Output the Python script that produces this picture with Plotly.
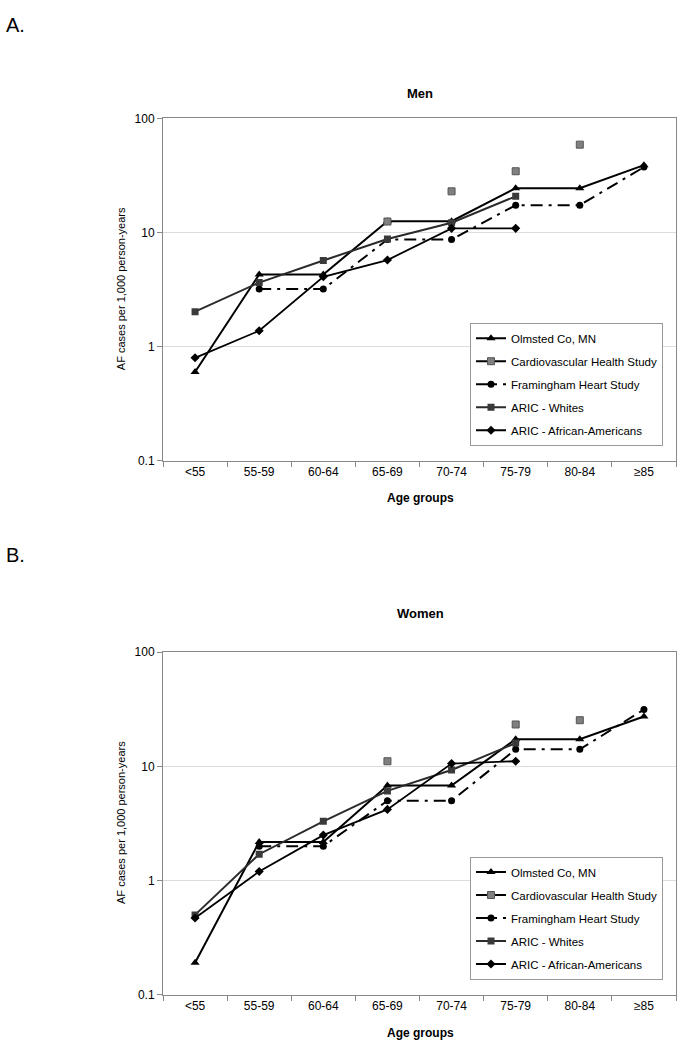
import plotly.graph_objects as go

categories = ["<55", "55-59", "60-64", "65-69", "70-74", "75-79", "80-84", "≥85"]
series_names = ["Olmsted Co, MN", "Cardiovascular Health Study", "Framingham Heart Study",
                "ARIC - Whites", "ARIC - African-Americans"]

# Men (AF cases per 1,000 person-years)
olmsted_men = [0.6, 4.3, 4.3, 12.6, 12.6, 24.5, 24.5, 39]
chs_men = [None, None, None, 12.5, 23, 34.5, 59, None]
fram_men = [None, 3.2, 3.2, 8.7, 8.7, 17.4, 17.4, 37.5]
whites_men = [2.03, 3.65, 5.7, 8.8, 12.2, 20.8, None, None]
aa_men = [0.8, 1.38, 4.1, 5.75, 10.9, 10.9, None, None]

# Women
olmsted_women = [0.19, 2.18, 2.18, 6.8, 6.8, 17.3, 17.3, 27.4]
chs_women = [None, None, None, 11.1, None, 23.3, 25.4, None]
fram_women = [None, 2.0, 2.0, 5.0, 5.0, 14.1, 14.1, 31.5]
whites_women = [0.5, 1.7, 3.3, 6.1, 9.3, 16.0, None, None]
aa_women = [0.47, 1.2, 2.5, 4.2, 10.6, 11.1, None, None]

W, H = 688, 1050
FONT = "Liberation Sans, Arial, sans-serif"

styles = [
    dict(line=dict(color="black", width=2), marker=dict(symbol="triangle-up", size=8, color="black")),
    dict(line=dict(color="black", width=2), marker=dict(symbol="square", size=7, color="#808080",
                                                         line=dict(color="#555555", width=1))),
    dict(line=dict(color="black", width=2, dash="12px,6px,3px,6px"), marker=dict(symbol="circle", size=7, color="black")),
    dict(line=dict(color="#2b2b2b", width=2), marker=dict(symbol="square", size=7, color="#3a3a3a")),
    dict(line=dict(color="black", width=1.8), marker=dict(symbol="diamond", size=7, color="black")),
]


def split_points(vals):
    # points drawn without connecting lines (gap after each point)
    xs, ys = [], []
    for c, v in zip(categories, vals):
        if v is not None:
            xs += [c, c]
            ys += [v, None]
    return xs, ys


fig = go.Figure()

panels = [
    ("x", "y", "legend", [olmsted_men, chs_men, fram_men, whites_men, aa_men]),
    ("x2", "y2", "legend2", [olmsted_women, chs_women, fram_women, whites_women, aa_women]),
]

for xa, ya, leg, data in panels:
    for i, (name, vals) in enumerate(zip(series_names, data)):
        if i == 1:
            xs, ys = split_points(vals)
        else:
            xs, ys = categories, vals
        fig.add_trace(go.Scatter(
            x=xs, y=ys, name=name, mode="lines+markers", connectgaps=False,
            xaxis=xa, yaxis=ya, legend=leg, legendgroup=leg + str(i),
            line=styles[i]["line"], marker=styles[i]["marker"], showlegend=True,
        ))

x_dom = [163 / W, 676 / W]
men_dom = [1 - 460 / H, 1 - 113 / H]
women_dom = [1 - 1001 / H, 1 - 654 / H]

xaxis_common = dict(
    type="category", categoryorder="array", categoryarray=categories,
    tickson="boundaries", ticks="outside", ticklen=5, tickcolor="#888888",
    showline=True, linecolor="#888888", linewidth=1, mirror=True,
    showgrid=False, tickfont=dict(family=FONT, size=12, color="black"),
    range=[-0.5, 7.5], fixedrange=True,
)
yaxis_common = dict(
    type="log", range=[-1, 2], tickvals=[0.1, 1, 10, 100], ticktext=["0.1", "1", "10", "100"],
    ticks="outside", ticklen=5, tickcolor="#888888",
    showline=True, linecolor="#888888", linewidth=1, mirror=True,
    showgrid=True, gridcolor="#dcdcdc", gridwidth=1, zeroline=False,
    tickfont=dict(family=FONT, size=12, color="black"),
)

legend_common = dict(
    xanchor="left", yanchor="top", bgcolor="white", bordercolor="#999999", borderwidth=1,
    font=dict(family=FONT, size=11.5, color="black"), tracegroupgap=4,
)

fig.update_layout(
    width=W, height=H, margin=dict(l=0, r=0, t=0, b=0),
    paper_bgcolor="white", plot_bgcolor="white",
    font=dict(family=FONT, color="black"),
    xaxis=dict(domain=x_dom, anchor="y", **xaxis_common),
    yaxis=dict(domain=men_dom, anchor="x", **yaxis_common),
    xaxis2=dict(domain=x_dom, anchor="y2", **xaxis_common),
    yaxis2=dict(domain=women_dom, anchor="x2", **yaxis_common),
    legend=dict(x=470 / W, y=1 - 320 / H, **legend_common),
    legend2=dict(x=470 / W, y=1 - 861 / H, **legend_common),
)


def px_ann(text, x, y, size, bold=False, xanchor="center", angle=0):
    fig.add_annotation(
        text=f"<b>{text}</b>" if bold else text, x=x / W, y=1 - y / H,
        xref="paper", yref="paper", showarrow=False, xanchor=xanchor, yanchor="middle",
        textangle=angle, font=dict(family=FONT, size=size, color="black"),
    )


px_ann("A.", 4, 18, 20, xanchor="left")
px_ann("Men", 420, 88, 13, bold=True)
px_ann("Age groups", 420, 498, 12, bold=True)
px_ann("AF cases per 1,000 person-years", 121, 286, 11, angle=-90)

px_ann("B.", 4, 555, 20, xanchor="left")
px_ann("Women", 420, 615, 13, bold=True)
px_ann("Age groups", 420, 1040, 12, bold=True)
px_ann("AF cases per 1,000 person-years", 121, 827, 11, angle=-90)

fig.write_html(
    "out.html",
    config={"displayModeBar": False},
    post_script="document.body.style.margin='0';document.body.style.overflow='hidden';",
)
